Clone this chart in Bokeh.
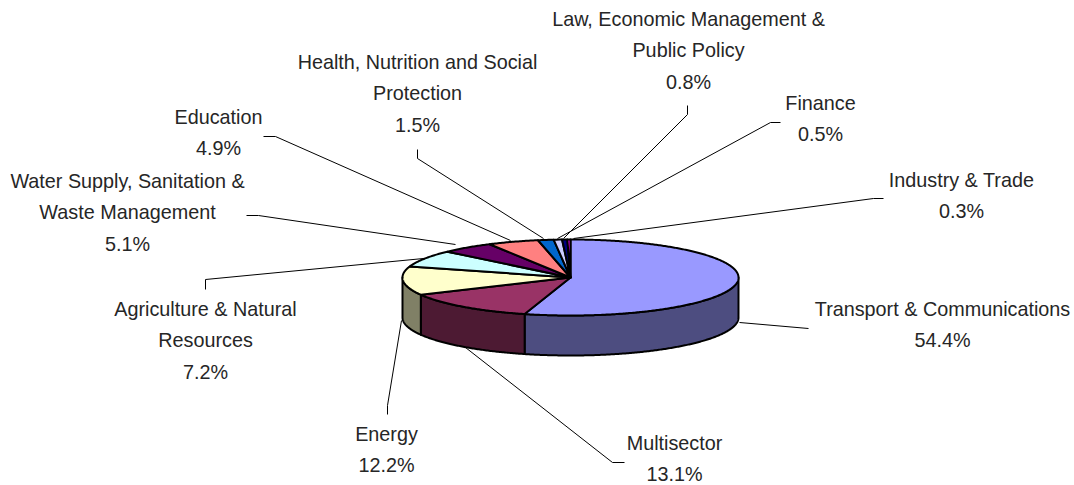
import numpy as np
from bokeh.plotting import figure
from bokeh.models import Range1d
from bokeh.core.properties import value
from bokeh.embed import file_html
from bokeh.resources import INLINE

# ---- data ----
categories = ["Transport & Communications", "Multisector", "Energy",
              "Agriculture & Natural Resources",
              "Water Supply, Sanitation & Waste Management", "Education",
              "Health, Nutrition and Social Protection",
              "Law, Economic Management & Public Policy", "Finance",
              "Industry & Trade"]
shares = [54.4, 13.1, 12.2, 7.2, 5.1, 4.9, 1.5, 0.8, 0.5, 0.3]
share_labels = ["54.4%", "13.1%", "12.2%", "7.2%", "5.1%", "4.9%", "1.5%", "0.8%", "0.5%", "0.3%"]

# ---- style / layout ----
top_colors = ["#9999FF", "#993366", "#FFFFCC", "#CCFFFF", "#660066",
              "#FF8080", "#0066CC", "#CCCCFF", "#000080", "#FF00FF"]
wall_colors = ["#4D4D80", "#4D1A33", "#808066", "#668080", "#330033",
               "#804040", "#003366", "#666680", "#000040", "#800080"]
CX, CY, RX, RY, DEPTH = 570.0, 277.0, 168.0, 38.0, 40.0
FONT, FS, LH = "Liberation Sans", "19.8px", 31.7

label_lines = [
    (["Transport & Communications"], 942, 308),
    (["Multisector"], 674, 442),
    (["Energy"], 386, 433),
    (["Agriculture & Natural", "Resources"], 205, 308),
    (["Water Supply, Sanitation &", "Waste Management"], 127, 180),
    (["Education"], 218, 116),
    (["Health, Nutrition and Social", "Protection"], 417, 61),
    (["Law, Economic Management &", "Public Policy"], 688, 18),
    (["Finance"], 820, 102),
    (["Industry & Trade"], 961, 179),
]
leaders = [
    ([739, 808], [322, 328]),
    ([465, 612, 624], [347, 462, 462]),
    ([401, 387, 387], [320, 405, 414]),
    ([205, 205, 423], [289, 279, 258]),
    ([246, 258, 455], [215, 215, 244]),
    ([263, 275, 510], [136, 136, 240]),
    ([417, 417, 543], [149, 158, 238]),
    ([687, 687, 563], [105, 114, 238]),
    ([780, 770, 557], [122, 122, 238]),
    ([883, 873, 573], [198, 198, 238]),
]

p = figure(width=1074, height=485, output_backend="svg", toolbar_location=None,
           x_range=Range1d(0, 1074), y_range=Range1d(485, 0),
           min_border=0, outline_line_color=None, background_fill_color="white")
p.xaxis.visible = False
p.yaxis.visible = False
p.grid.visible = False


def rim(a0, a1):
    t = np.radians(np.linspace(a0, a1, max(int(abs(a1 - a0)) * 2, 4)))
    return CX + RX * np.sin(t), CY - RY * np.cos(t)


edges = np.concatenate([[0.0], np.cumsum(shares)]) / np.sum(shares) * 360.0

# leader lines
for xs, ys in leaders:
    p.line(xs, ys, line_color="black", line_width=1)

# side wall: only the front half of the disc (90..270 degrees)
for a0, a1, c in zip(edges[:-1], edges[1:], wall_colors):
    lo, hi = max(a0, 90.0), min(a1, 270.0)
    if hi <= lo:
        continue
    x, y = rim(lo, hi)
    p.patch(np.r_[x, x[::-1]], np.r_[y, y[::-1] + DEPTH], fill_color=c,
            line_color="black", line_width=2, line_join="round")

# top face
for a0, a1, c in zip(edges[:-1], edges[1:], top_colors):
    x, y = rim(a0, a1)
    p.patch(np.r_[CX, x], np.r_[CY, y], fill_color=c,
            line_color="black", line_width=2, line_join="round")

# labels
for (lines, lx, ly), pct in zip(label_lines, share_labels):
    rows = lines + [pct]
    p.text([lx] * len(rows), [ly + i * LH for i in range(len(rows))], text=rows,
           text_font=value(FONT), text_font_size=value(FS), text_color="#262626",
           text_align="center", text_baseline="middle")

open("out.html", "w").write(file_html(p, INLINE))
